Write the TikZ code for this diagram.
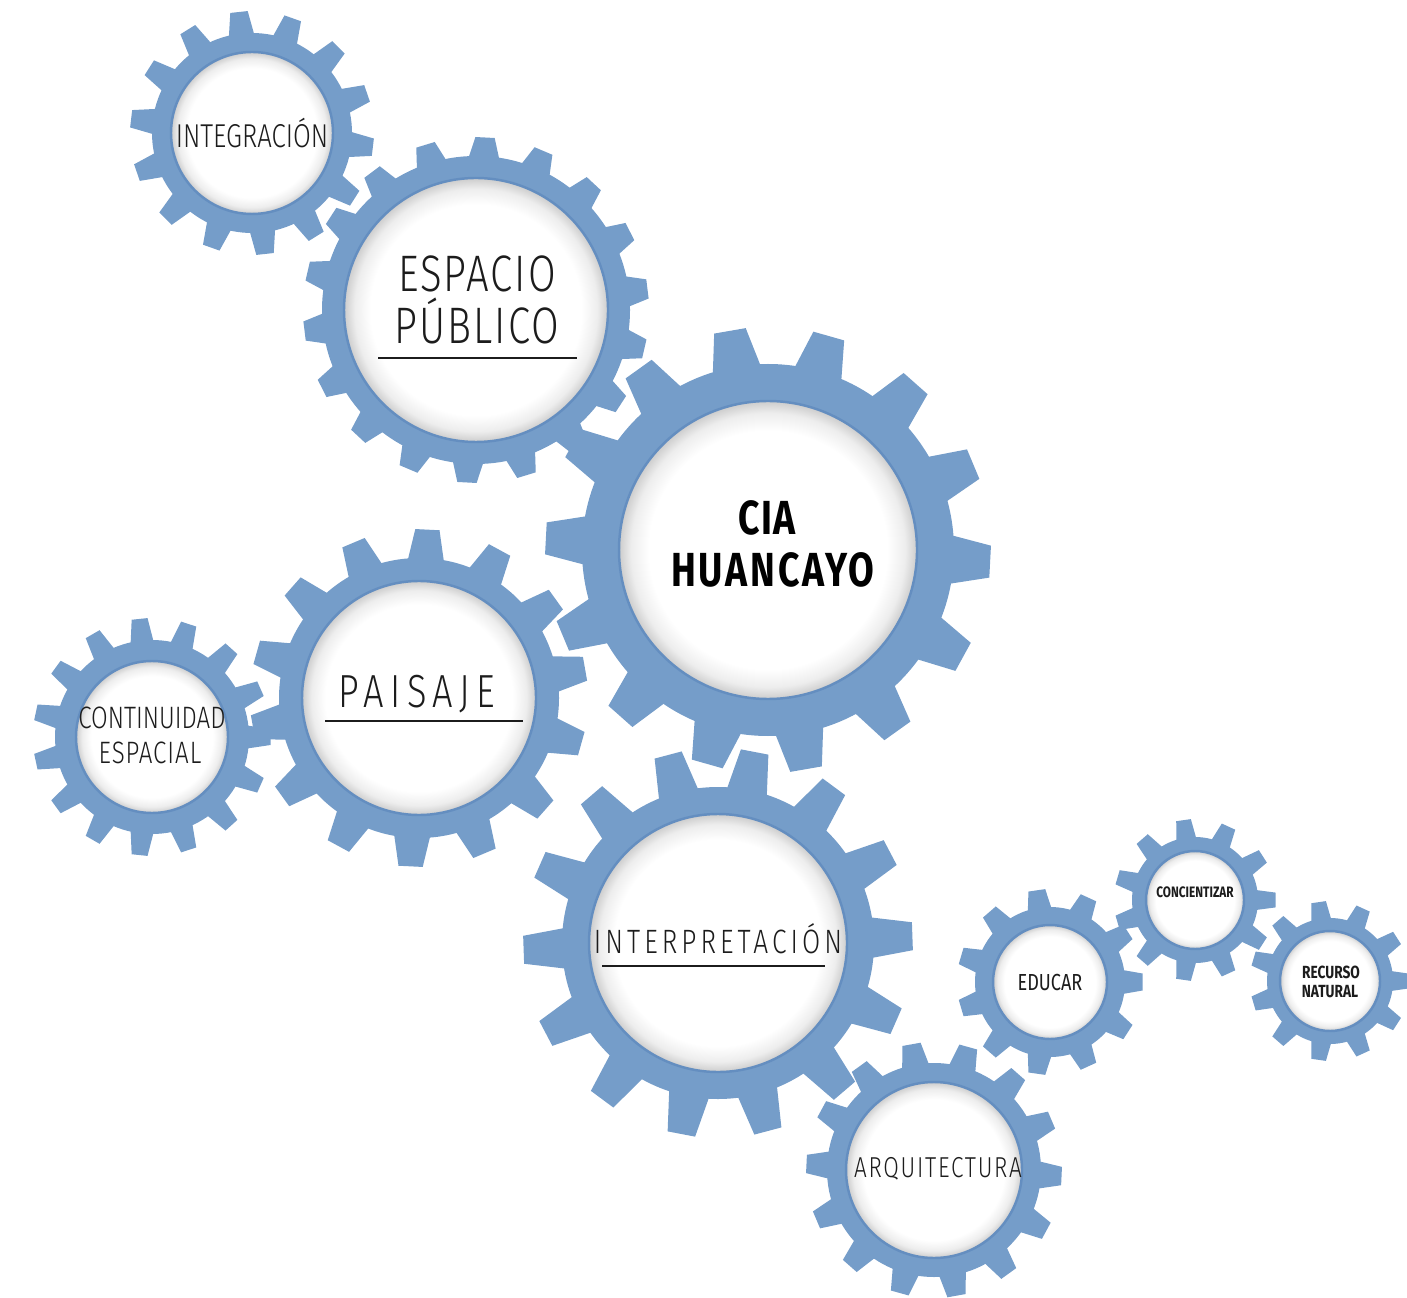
\documentclass[tikz,border=0pt]{standalone}
\usepackage{fontspec}
\setmainfont{Fira Sans}
\newfontfamily\lightfont{Fira Sans Light}[FakeStretch=0.78]
\newfontfamily\condfont{Fira Sans}[FakeStretch=0.78]
\usetikzlibrary{calc}
\definecolor{gearblue}{RGB}{117,157,201}
\definecolor{rimblue}{RGB}{100,142,192}
\definecolor{inkgray}{RGB}{28,28,28}
\pgfdeclareradialshading{rimshadow}{\pgfpoint{0bp}{0bp}}{color(0bp)=(white); color(20bp)=(white); color(23bp)=(black!7); color(25bp)=(black!20); color(50bp)=(black!20)}

% gear body: x, y, teeth, root radius, tip radius, phase
\newcommand{\drawgear}[6]{%
  \fill[gearblue] (#1,#2) circle[radius=#4];
  \foreach \k in {1,...,#3}{%
    \pgfmathsetmacro\ang{#6+\k*360/#3}
    \pgfmathsetmacro\hb{0.30*360/#3}
    \pgfmathsetmacro\ht{0.16*360/#3}
    \fill[gearblue] ([shift={(#1,#2)}]\ang-\hb:#4-3) -- ([shift={(#1,#2)}]\ang-\ht:#5)
      -- ([shift={(#1,#2)}]\ang+\ht:#5) -- ([shift={(#1,#2)}]\ang+\hb:#4-3) -- cycle;
  }}
% white face with soft rim
\newcommand{\drawface}[3]{%
  \path[shade, shading=rimshadow, draw=rimblue, line width=0.7pt] (#1,#2) circle[radius=#3];}

\begin{document}
\begin{tikzpicture}[x=0.01cm, y=-0.01cm,
  lbl/.style={anchor=base, inner sep=0pt, text=inkgray},
  uline/.style={inkgray, line width=0.75pt}]
\useasboundingbox (0,0) rectangle (1407,1298);
% gear bodies
\drawgear{252}{133}{14}{100}{122}{-19}
\drawgear{476}{310}{18}{154}{173}{-7}
\drawgear{768}{550}{14}{186}{223}{3}
\drawgear{419}{698}{14}{140}{169}{-10}
\drawgear{152}{737}{15}{97}{119}{0}
\drawgear{718}{943}{14}{156}{195}{-2}
\drawgear{934}{1170}{14}{107}{128}{-23}
\drawgear{1050}{982}{11}{75}{93}{0}
\drawgear{1195}{900}{11}{63}{81}{0}
\drawgear{1330}{981}{11}{63}{80}{0}
% faces
\drawface{252}{133}{81}
\drawface{476}{310}{132}
\drawface{768}{550}{149}
\drawface{419}{698}{117}
\drawface{152}{737}{76}
\drawface{718}{943}{129}
\drawface{934}{1170}{88}
\drawface{1050}{982}{57}
\drawface{1195}{900}{49}
\drawface{1330}{981}{50}
% labels
\node[lbl, font=\lightfont\fontsize{9.4}{10}\selectfont] (integ) at (252,148) {INTEGRACIÓN};
\node[lbl, font=\lightfont\fontsize{14.6}{16}\selectfont\addfontfeature{LetterSpace=4}] (esp1) at (477,292) {ESPACIO};
\node[lbl, font=\lightfont\fontsize{14.6}{16}\selectfont\addfontfeature{LetterSpace=4}] (esp2) at (477,344) {PÚBLICO};
\draw[uline] (378,358) -- (577,358);
\node[lbl, font=\condfont\bfseries\fontsize{13.6}{14}\selectfont\addfontfeature{LetterSpace=3}, text=black] (cia1) at (767,535) {CIA};
\node[lbl, font=\condfont\bfseries\fontsize{13.6}{14}\selectfont\addfontfeature{LetterSpace=6}, text=black] (cia2) at (773,587) {HUANCAYO};
\node[lbl, font=\lightfont\fontsize{13.2}{14}\selectfont\addfontfeature{LetterSpace=14}] (pais) at (417,707) {PAISAJE};
\draw[uline] (325,721) -- (523,721);
\node[lbl, font=\lightfont\fontsize{8.8}{10}\selectfont] (cont1) at (152,728) {CONTINUIDAD};
\node[lbl, font=\lightfont\fontsize{8.8}{10}\selectfont\addfontfeature{LetterSpace=3}] (cont2) at (150,763) {ESPACIAL};
\node[lbl, font=\lightfont\fontsize{9.6}{10}\selectfont\addfontfeature{LetterSpace=12}] (interp) at (718,953) {INTERPRETACIÓN};
\draw[uline] (602,966) -- (825,966);
\node[lbl, font=\lightfont\fontsize{8.2}{9}\selectfont\addfontfeature{LetterSpace=6}] (arq) at (938,1177) {ARQUITECTURA};
\node[lbl, font=\condfont\fontsize{6.6}{7}\selectfont] (educ) at (1050,990) {EDUCAR};
\node[lbl, font=\condfont\bfseries\fontsize{4.3}{5}\selectfont] (conc) at (1195,897) {CONCIENTIZAR};
\node[lbl, font=\condfont\bfseries\fontsize{5}{6}\selectfont] (rec1) at (1331,978) {RECURSO};
\node[lbl, font=\condfont\bfseries\fontsize{5}{6}\selectfont] (rec2) at (1330,997) {NATURAL};
\end{tikzpicture}
\end{document}
